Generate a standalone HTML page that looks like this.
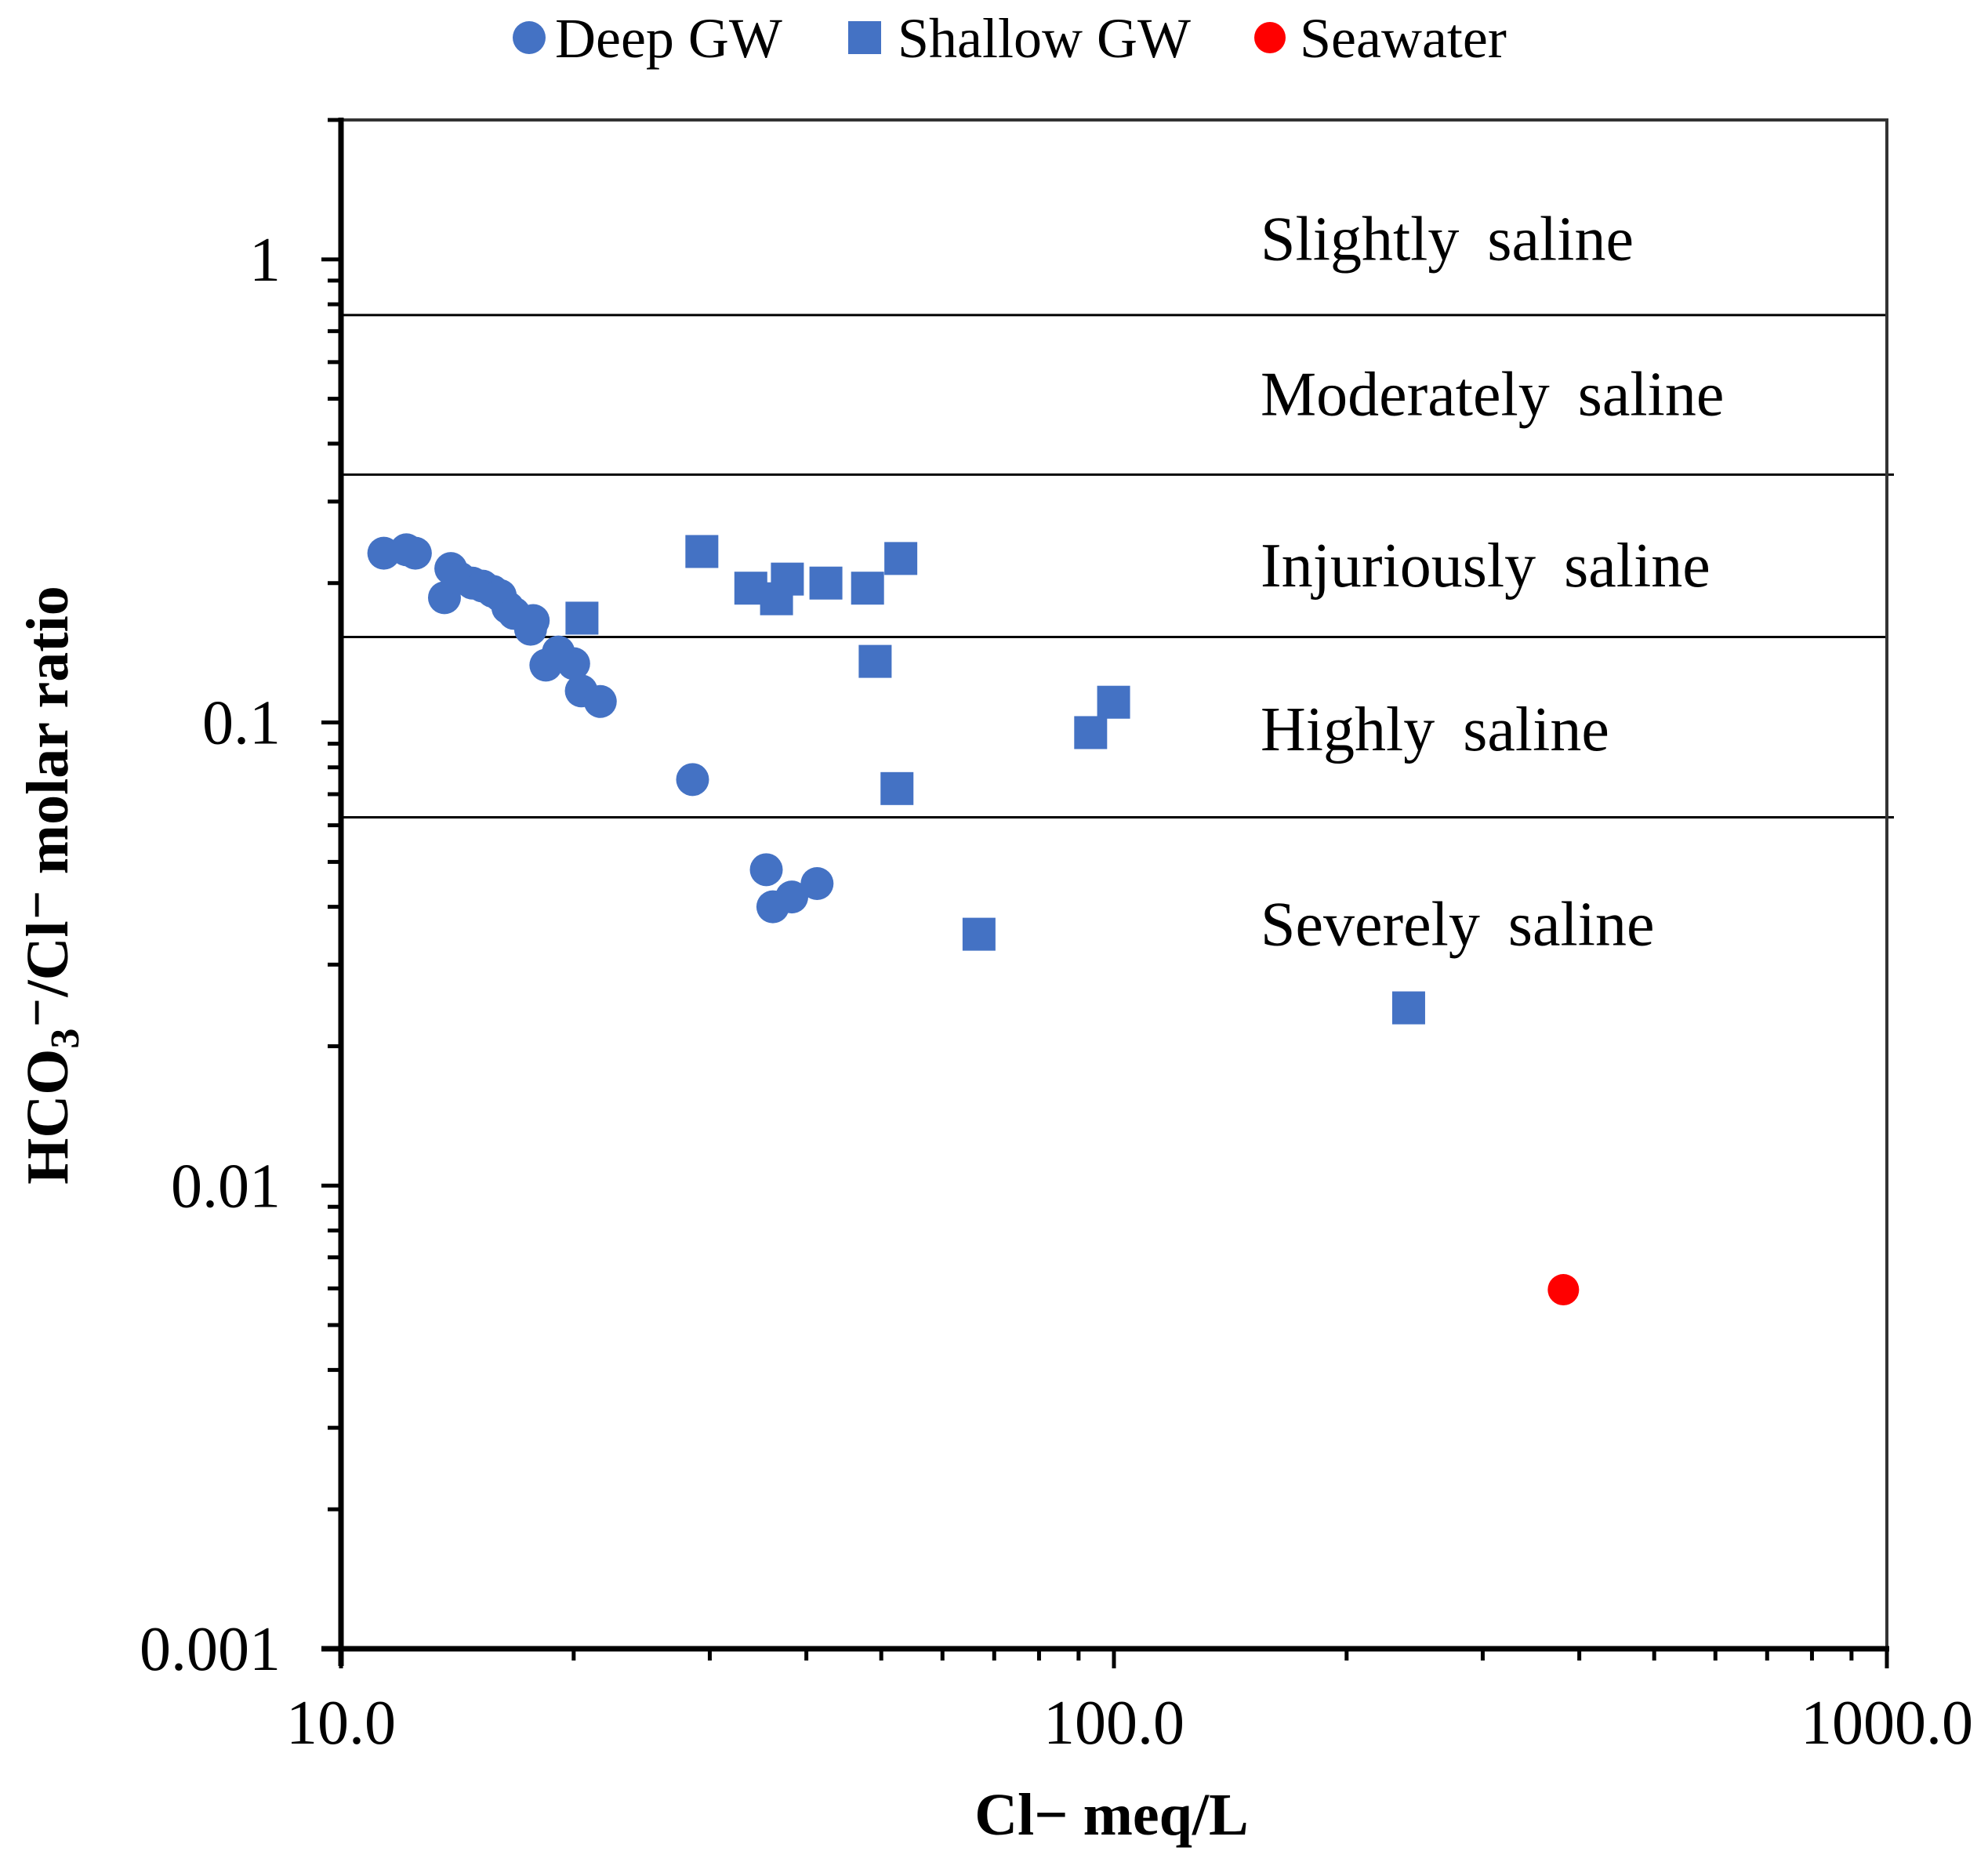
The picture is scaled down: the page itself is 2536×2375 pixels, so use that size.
<!DOCTYPE html>
<html><head><meta charset="utf-8"><style>
html,body{margin:0;padding:0;background:#fff;}
svg{display:block;font-family:"Liberation Serif","DejaVu Serif",serif;}
</style></head><body>
<svg id="chart" width="2536" height="2375" viewBox="0 0 2536 2375" xmlns="http://www.w3.org/2000/svg">
<g id="grid"></g><g id="marks"></g><g id="axes"></g>
<g>
 <circle cx="675" cy="48" r="21" fill="#4472C4"/>
 <text x="708" y="73" font-size="72">Deep GW</text>
 <rect x="1082" y="27" width="42" height="42" fill="#4472C4"/>
 <text x="1145" y="73" font-size="72">Shallow GW</text>
 <circle cx="1620" cy="48" r="20" fill="#FF0000"/>
 <text x="1658" y="73" font-size="72">Seawater</text>
</g>
<text x="1418" y="2340" font-size="76" font-weight="bold" text-anchor="middle">Cl− meq/L</text>
<text transform="translate(86,1129) rotate(-90)" font-size="76" font-weight="bold" text-anchor="middle">HCO<tspan font-size="52" dy="14">3</tspan><tspan dy="-14">⁻/Cl⁻  molar ratio</tspan></text>
</svg>
<script>
const deepX=[11.36,12.15,12.48,13.87,13.61,14.24,14.79,15.25,15.71,16.07,16.44,16.75,17.73,17.59,18.41,19.11,20.0,20.46,21.65,28.5,35.5,36.2,38.3,41.3];
const deepY=[0.232,0.236,0.232,0.215,0.186,0.205,0.200,0.197,0.192,0.188,0.177,0.172,0.166,0.159,0.133,0.142,0.134,0.117,0.111,0.0753,0.0481,0.040,0.042,0.0449];
const shallowX=[29.3,33.9,36.6,37.8,42.4,48.0,53.0,20.5,49.1,52.4,93.3,99.9,66.9,240.6];
const shallowY=[0.234,0.195,0.185,0.204,0.200,0.195,0.226,0.168,0.1355,0.072,0.0951,0.1106,0.0349,0.0242];
const seaX=[381.5];
const seaY=[0.00596];
const zoneBounds=[0.758,0.343,0.153,0.0624];
const zoneNames=["Slightly saline","Moderately saline","Injuriously saline","Highly saline","Severely saline"];
const zoneLabelY=[0.975,0.45,0.192,0.085,0.0323];
const yTicks=[1,0.1,0.01,0.001];
const yTickLabels=["1","0.1","0.01","0.001"];
const xTicks=[10,100,1000];
const xTickLabels=["10.0","100.0","1000.0"];

const X0=435,X1=2407,Y0=2103,Y1=153;
const xmin=1,xmax=3,ymin=-3,ymax=Math.log10(2);
function sx(v){return X0+(Math.log10(v)-xmin)/(xmax-xmin)*(X1-X0);}
function sy(v){return Y0-(Math.log10(v)-ymin)/(ymax-ymin)*(Y0-Y1);}
const NS="http://www.w3.org/2000/svg";
function mk(t,a,p){const e=document.createElementNS(NS,t);for(const k in a)e.setAttribute(k,a[k]);p.appendChild(e);return e;}
const grid=document.getElementById('grid'),marks=document.getElementById('marks'),axes=document.getElementById('axes');

zoneBounds.forEach((b,i)=>{
 const l=mk('line',{x1:X0,x2:(i%2===1?2416:X1),y1:sy(b),y2:sy(b),stroke:'#000','stroke-width':3},grid);
 
 
});
zoneNames.forEach((n,i)=>{
 const t=mk('text',{x:1608,y:sy(zoneLabelY[i])-6,'font-size':80,'word-spacing':16},grid);
 t.textContent=n;
 
 
});

deepX.forEach((x,i)=>{
 const c=mk('circle',{cx:sx(x),cy:sy(deepY[i]),r:21,fill:'#4472C4'},marks);
 
 
});
shallowX.forEach((x,i)=>{
 const r=mk('rect',{x:sx(x)-21,y:sy(shallowY[i])-21,width:42,height:42,fill:'#4472C4'},marks);
 
 
});
seaX.forEach((x,i)=>{
 const c=mk('circle',{cx:sx(x),cy:sy(seaY[i]),r:20,fill:'#FF0000'},marks);
 
 
});

const fr=mk('path',{d:`M${X0},${Y1}H${X1}V${Y0}`,fill:'none',stroke:'#333','stroke-width':4},axes);


const ya=mk('line',{x1:X0,x2:X0,y1:Y1-3,y2:Y0+22,stroke:'#000','stroke-width':7},axes);


const xa=mk('line',{x1:X0-25,x2:X1+3,y1:Y0,y2:Y0,stroke:'#000','stroke-width':7},axes);



for(let d=-3;d<=0;d++){for(let m=1;m<=9;m++){const v=m*Math.pow(10,d);if(Math.log10(v)>ymax)continue;
 const L=m===1?25:17;
 const t=mk('line',{x1:X0-L,x2:X0,y1:sy(v),y2:sy(v),stroke:'#000','stroke-width':5},axes);
 
 }}
for(let d=1;d<=2;d++){for(let m=1;m<=9;m++){const v=m*Math.pow(10,d);
 const L=m===1?25:15;
 const t=mk('line',{x1:sx(v),x2:sx(v),y1:Y0,y2:Y0+L,stroke:'#000','stroke-width':5},axes);
 
 }}
{const t=mk('line',{x1:X1,x2:X1,y1:Y0,y2:Y0+25,stroke:'#000','stroke-width':5},axes);
 
 }

yTicks.forEach((v,i)=>{
 const t=mk('text',{x:358,y:sy(v)+27,'font-size':80,'text-anchor':'end'},axes);
 t.textContent=yTickLabels[i];
 
 
});
xTicks.forEach((v,i)=>{
 const t=mk('text',{x:sx(v),y:2224,'font-size':80,'text-anchor':'middle'},axes);
 t.textContent=xTickLabels[i];
 
 
});
</script>
</body></html>
